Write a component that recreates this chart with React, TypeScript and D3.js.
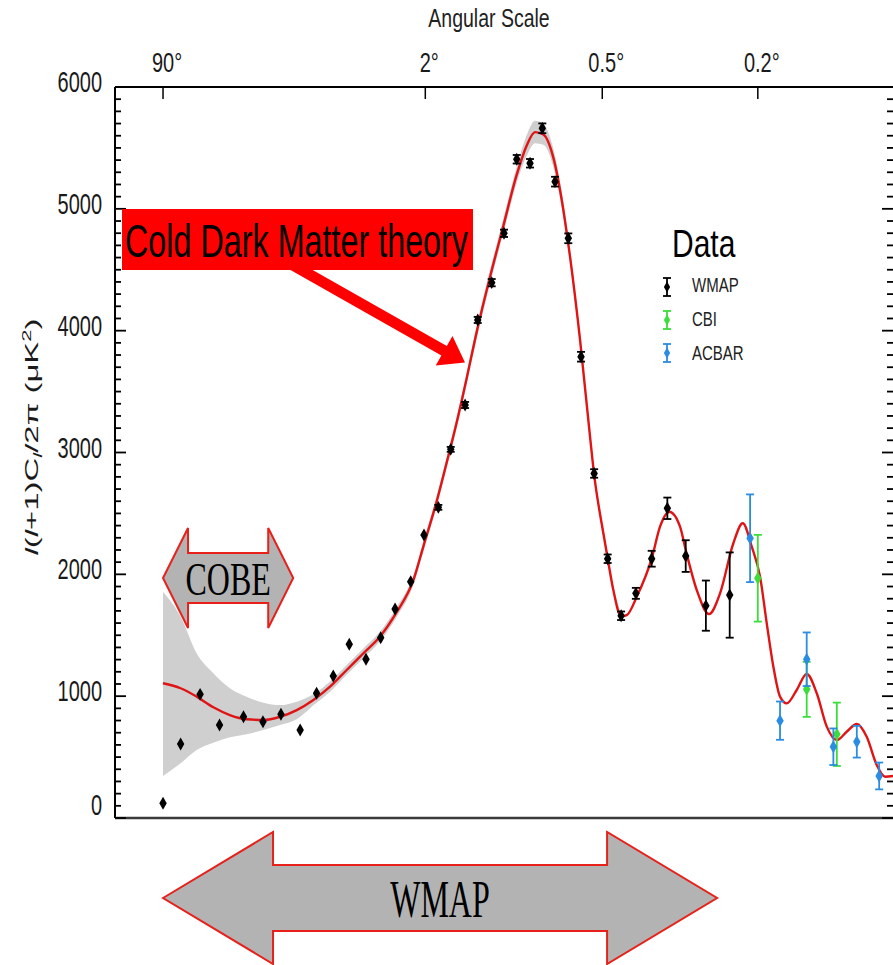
import React from 'react';
import * as d3 from 'd3';

const W = 893;
const H = 965;
const LEFT = 115, RIGHT = 892, TOP = 87, BOTTOM = 818;

// Top axis: angular scale (degrees), l = 180/theta
const angleTicks = [90, 2, 0.5, 0.2];
const angleLabels = ['90', '2', '0.5', '0.2'];

const yTicks = [0, 1000, 2000, 3000, 4000, 5000, 6000];

// WMAP data
const wmapL = [2, 3, 4.5, 6.5, 9.8, 13.3, 17.3, 22.5, 27.8, 34.1, 41.1, 49.5, 57.9, 67.1, 78.3, 88.9, 101.5, 113.4, 128.5, 143, 160.4, 177, 195.5, 216.3, 237, 260, 285.6, 312, 341, 373, 407, 447, 493, 542, 604, 678, 774];
const wmapD = [121, 607, 1015, 763, 831, 790, 851, 722, 1024, 1166, 1426, 1303, 1480, 1716, 1940, 2323, 2550, 3026, 3390, 4088, 4394, 4799, 5407, 5374, 5661, 5223, 4758, 3786, 2828, 2128, 1660, 1844, 2128, 2542, 2150, 1743, 1830];
const wmapErr = [0, 0, 0, 0, 0, 0, 0, 0, 0, 0, 0, 0, 0, 0, 0, 0, 20, 20, 25, 25, 30, 30, 35, 35, 40, 40, 40, 40, 35, 35, 35, 45, 65, 88, 130, 206, 350];

// CBI data
const cbiL = [900, 1155, 1337];
const cbiD = [1968, 1056, 687];
const cbiErr = [356, 226, 260];

// ACBAR data
const acbarL = [864, 1010, 1155, 1315, 1469, 1628];
const acbarD = [2296, 799, 1303, 585, 626, 345];
const acbarErr = [360, 157, 220, 150, 130, 110];

// Cold Dark Matter theory curve
const theoryL = [2, 3, 4.2, 5.8, 7.8, 10.3, 13.4, 17.1, 21.5, 26.7, 32.8, 39.9, 48.1, 57.5, 68.2, 80.3, 88.4, 100, 109.5, 119.6, 130.3, 141.8, 158.2, 176.1, 195.5, 211, 224.6, 238.8, 256.8, 272.7, 289.1, 309.9, 331.7, 340.8, 362.6, 373.2, 387.1, 406.9, 422, 449.5, 493.2, 518.7, 548.5, 584.3, 604, 643.7, 690.3, 734, 789.6, 830.8, 871.6, 910.7, 943.1, 976, 1010, 1045, 1099, 1155, 1213.5, 1274, 1336.6, 1401, 1469, 1538, 1610, 1672, 1733];
const theoryD = [1106, 1065, 996, 909, 845, 810, 804, 831, 886, 969, 1078, 1215, 1352, 1490, 1690, 1950, 2230, 2600, 2920, 3250, 3610, 3990, 4440, 4860, 5280, 5520, 5630, 5610, 5420, 5073, 4607, 3924, 3130, 2824, 2337, 2128, 1871, 1655, 1665, 1816, 2131, 2391, 2514, 2391, 2200, 1871, 1674, 1844, 2255, 2419, 2227, 1981, 1598, 1242, 996, 941, 1051, 1182, 1024, 750, 640, 708, 772, 667, 435, 339, 345];

// Cosmic variance band (upper / lower) for the first theory samples
const bandHi = [1857, 1652, 1352, 1188, 1065, 996, 946, 927, 955, 1015, 1120, 1255, 1392, 1530, 1730, 1990, 2272, 2645, 2965, 3298, 3660, 4043, 4496, 4921, 5346, 5605, 5722, 5695, 5497, 5140, 4660, 3970, 3170, 2860, 2370, 2160, 1900, 1685];
const bandLo = [345, 449, 558, 618, 662, 687, 722, 763, 810, 925, 1036, 1175, 1312, 1450, 1650, 1910, 2188, 2555, 2875, 3202, 3560, 3937, 4384, 4799, 5214, 5435, 5538, 5525, 5343, 5006, 4554, 3878, 3090, 2788, 2304, 2096, 1842, 1625];

const legendNames = ['WMAP', 'CBI', 'ACBAR'];
const legendColors = ['#000000', '#3ade3a', '#2a8ce2'];

// Annotation ranges (multipole)
const cobeRange = [2, 20.5];
const wmapRange = [2, 722];

const SANS = '"Liberation Sans", Arial, Helvetica, sans-serif';
const SERIF = '"Liberation Serif", "Times New Roman", serif';

function doubleArrow(x1: number, x2: number, cy: number, sh: number, hh: number, hl: number) {
  const p = d3.path();
  p.moveTo(x1, cy);
  p.lineTo(x1 + hl, cy - hh);
  p.lineTo(x1 + hl, cy - sh);
  p.lineTo(x2 - hl, cy - sh);
  p.lineTo(x2 - hl, cy - hh);
  p.lineTo(x2, cy);
  p.lineTo(x2 - hl, cy + hh);
  p.lineTo(x2 - hl, cy + sh);
  p.lineTo(x1 + hl, cy + sh);
  p.lineTo(x1 + hl, cy + hh);
  p.closePath();
  return p.toString();
}

function singleArrow(sx: number, sy: number, tx: number, ty: number, sh: number, hh: number, hl: number) {
  const dx = tx - sx, dy = ty - sy;
  const len = Math.hypot(dx, dy);
  const ux = dx / len, uy = dy / len;
  const nx = -uy, ny = ux;
  const bx = tx - ux * hl, by = ty - uy * hl;
  const p = d3.path();
  p.moveTo(sx + nx * sh, sy + ny * sh);
  p.lineTo(bx + nx * sh, by + ny * sh);
  p.lineTo(bx + nx * hh, by + ny * hh);
  p.lineTo(tx, ty);
  p.lineTo(bx - nx * hh, by - ny * hh);
  p.lineTo(bx - nx * sh, by - ny * sh);
  p.lineTo(sx - nx * sh, sy - ny * sh);
  p.closePath();
  return p.toString();
}

export default function App() {
  const x = d3.scalePow().exponent(0.25).domain([0.505, 1725]).range([LEFT, RIGHT]);
  const y = d3.scaleLinear().domain([0, 6000]).range([BOTTOM, TOP]);

  const theory = theoryL.map((l, i) => [l, theoryD[i]] as [number, number]);
  const band = bandHi.map((h, i) => ({ l: theoryL[i], hi: h, lo: bandLo[i] }));

  const line = d3.line<[number, number]>().x(d => x(d[0])).y(d => y(d[1])).curve(d3.curveMonotoneX);
  const area = d3.area<{ l: number; hi: number; lo: number }>()
    .x(d => x(d.l)).y0(d => y(d.lo)).y1(d => y(d.hi)).curve(d3.curveMonotoneX);

  const diamond = d3.symbol().type(d3.symbolDiamond).size(48)() as string;
  const diamondSmall = d3.symbol().type(d3.symbolDiamond).size(34)() as string;

  const minorTicks = d3.range(0, 6001, 100);

  const renderSeries = (L: number[], D: number[], E: number[], color: string, key: string) => (
    <g key={key}>
      {L.map((l, i) => {
        const cx = x(l), cy = y(D[i]);
        const e = E[i];
        return (
          <g key={i}>
            {e > 0 && (
              <g stroke={color} strokeWidth={1.8}>
                <line x1={cx} x2={cx} y1={y(D[i] + e)} y2={y(D[i] - e)} />
                <line x1={cx - 4} x2={cx + 4} y1={y(D[i] + e)} y2={y(D[i] + e)} />
                <line x1={cx - 4} x2={cx + 4} y1={y(D[i] - e)} y2={y(D[i] - e)} />
              </g>
            )}
            <path d={diamond} transform={`translate(${cx},${cy})`} fill={color} />
          </g>
        );
      })}
    </g>
  );

  const cobeX1 = x(cobeRange[0]), cobeX2 = x(cobeRange[1]);
  const wmapX1 = x(wmapRange[0]), wmapX2 = x(wmapRange[1]);

  return (
    <svg width={W} height={H} style={{ position: 'fixed', left: 0, top: 0, display: 'block', background: '#fff' }}>
      <rect x={0} y={0} width={W} height={H} fill="#ffffff" />

      {/* title */}
      <text transform={`translate(489,27) scale(1,1.35)`} textAnchor="middle" fontFamily={SANS} fontSize={19.5} fill="#222">Angular Scale</text>

      {/* cosmic variance band */}
      <path d={area(band) as string} fill="#cfcfcf" />

      {/* theory curve */}
      <path d={line(theory) as string} fill="none" stroke="#e01414" strokeWidth={2.4} />

      {/* data */}
      {renderSeries(wmapL, wmapD, wmapErr, legendColors[0], 'wmap')}
      {renderSeries(cbiL, cbiD, cbiErr, legendColors[1], 'cbi')}
      {renderSeries(acbarL, acbarD, acbarErr, legendColors[2], 'acbar')}

      {/* axes frame */}
      <line x1={LEFT} x2={W} y1={TOP} y2={TOP} stroke="#000" strokeWidth={2} />
      <line x1={LEFT} x2={LEFT} y1={TOP} y2={BOTTOM} stroke="#000" strokeWidth={2} />
      <line x1={LEFT} x2={W} y1={BOTTOM} y2={BOTTOM} stroke="#3a3a3a" strokeWidth={2.5} />

      {/* y ticks */}
      {minorTicks.map(v => {
        const major = v % 1000 === 0;
        const ty = y(v);
        return (
          <g key={v} stroke="#000" strokeWidth={1.8}>
            <line x1={LEFT} x2={LEFT + (major ? 11 : 6)} y1={ty} y2={ty} />
            <line x1={W} x2={W - (major ? 11 : 6)} y1={ty} y2={ty} />
          </g>
        );
      })}
      {yTicks.map(v => (
        <text key={v} transform={`translate(102,${y(v) + (v === 0 ? -3 : 5)}) scale(1,1.45)`} textAnchor="end" fontFamily={SANS} fontSize={20} fill="#1a1a1a">{v}</text>
      ))}

      {/* top angular-scale ticks */}
      {angleTicks.map((a, i) => {
        const tx = x(180 / a);
        return (
          <g key={a}>
            <line x1={tx} x2={tx} y1={TOP} y2={TOP + 12} stroke="#000" strokeWidth={1.5} />
            <text transform={`translate(${tx + 4},72) scale(1,1.4)`} textAnchor="middle" fontFamily={SANS} fontSize={20} fill="#1a1a1a">{angleLabels[i]}°</text>
          </g>
        );
      })}

      {/* y axis label */}
      <text transform={`translate(38,437) rotate(-90)`} textAnchor="middle" fontFamily={SANS} fontSize={18} fill="#1a1a1a" textLength={237} lengthAdjust="spacingAndGlyphs">
        <tspan fontStyle="italic">l</tspan>(<tspan fontStyle="italic">l</tspan>+1)C<tspan fontStyle="italic" fontSize={12} dy={4}>l</tspan><tspan dy={-4}>/2π (μK</tspan><tspan fontSize={12} dy={-7}>2</tspan><tspan dy={7}>)</tspan>
      </text>

      {/* legend */}
      <text transform={`translate(672,257) scale(1,1.27)`} fontFamily={SANS} fontSize={30} fill="#000">Data</text>
      {legendNames.map((n, i) => {
        const cy = [287, 320, 353][i];
        const by = [291.5, 326, 359.5][i];
        const c = legendColors[i];
        return (
          <g key={n}>
            <g stroke={c} strokeWidth={1.8}>
              <line x1={667} x2={667} y1={cy - 9} y2={cy + 9} />
              <line x1={663} x2={671} y1={cy - 9} y2={cy - 9} />
              <line x1={663} x2={671} y1={cy + 9} y2={cy + 9} />
            </g>
            <path d={diamondSmall} transform={`translate(667,${cy})`} fill={c} />
            <text transform={`translate(692,${by}) scale(1,1.4)`} fontFamily={SANS} fontSize={15} fill="#222">{n}</text>
          </g>
        );
      })}

      {/* COBE arrow */}
      <path d={doubleArrow(cobeX1, cobeX2, 578, 25, 50, 25)} fill="#b3b3b3" stroke="#e8201a" strokeWidth={2} />
      <text transform={`translate(${(cobeX1 + cobeX2) / 2},595) scale(1,1.42)`} textAnchor="middle" fontFamily={SERIF} fontSize={32} fill="#000">COBE</text>

      {/* WMAP arrow */}
      <path d={doubleArrow(wmapX1, wmapX2, 898, 33, 66, 110)} fill="#b3b3b3" stroke="#e8201a" strokeWidth={2} />
      <text transform={`translate(440,917) scale(1,1.65)`} textAnchor="middle" fontFamily={SERIF} fontSize={32} fill="#000">WMAP</text>

      {/* Cold Dark Matter annotation */}
      <path d={singleArrow(291, 264, 465, 362.5, 5.5, 17, 24)} fill="#ff0000" />
      <rect x={122} y={209} width={351} height={61} fill="#ff0000" />
      <text transform={`translate(125,256.5) scale(1,1.43)`} fontFamily={SANS} fontSize={32} fill="#000" textLength={343} lengthAdjust="spacingAndGlyphs">Cold Dark Matter theory</text>
    </svg>
  );
}
